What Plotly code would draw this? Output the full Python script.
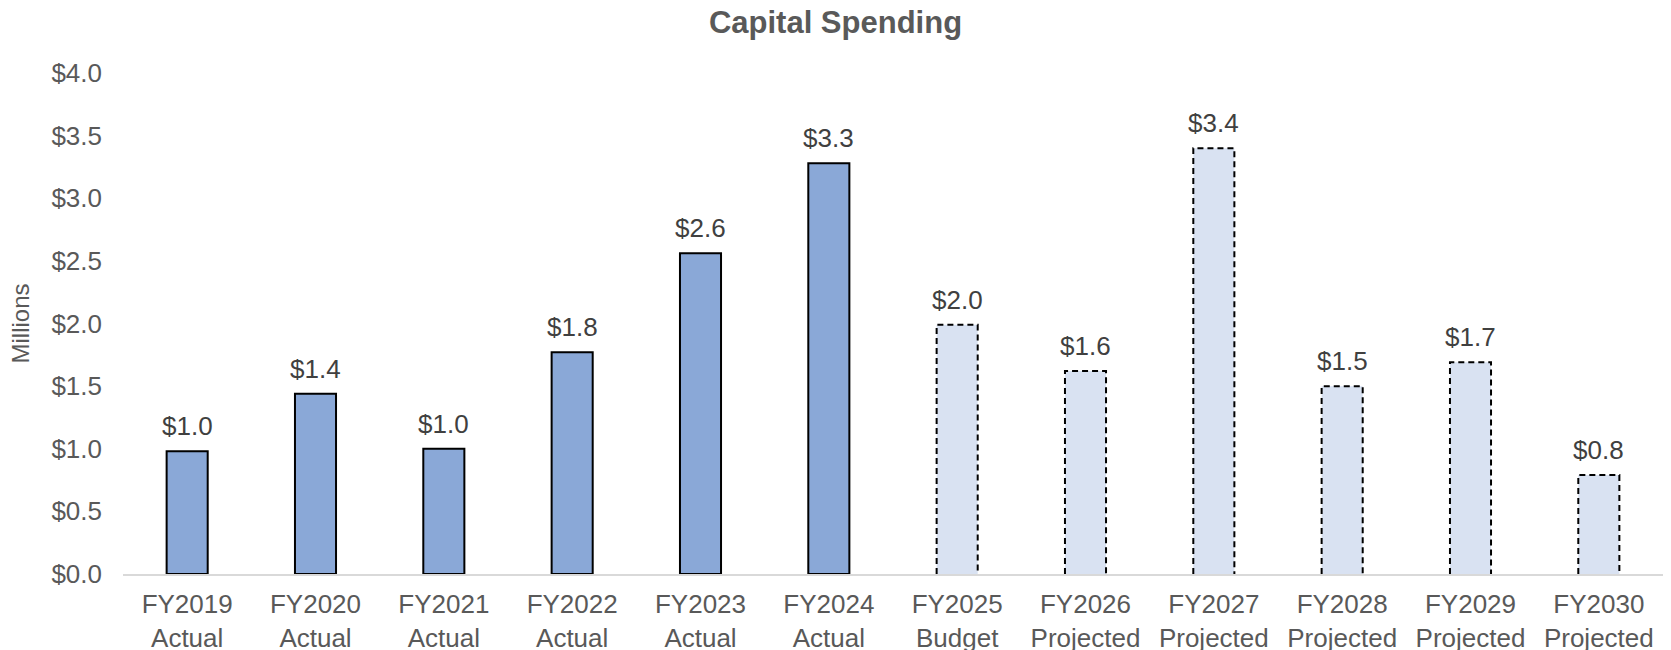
import plotly.graph_objects as go

categories = ["FY2019", "FY2020", "FY2021", "FY2022", "FY2023", "FY2024",
              "FY2025", "FY2026", "FY2027", "FY2028", "FY2029", "FY2030"]
sublabels = ["Actual", "Actual", "Actual", "Actual", "Actual", "Actual",
             "Budget", "Projected", "Projected", "Projected", "Projected", "Projected"]
values = [0.98, 1.44, 1.0, 1.77, 2.56, 3.28, 1.99, 1.62, 3.40, 1.50, 1.69, 0.79]
is_actual = [True] * 6 + [False] * 6

ytick_vals = [0, 0.5, 1.0, 1.5, 2.0, 2.5, 3.0, 3.5, 4.0]
ytick_text = ["$0.0", "$0.5", "$1.0", "$1.5", "$2.0", "$2.5", "$3.0", "$3.5", "$4.0"]

FONT = "Liberation Sans, Arial, sans-serif"
BAR_W = 0.32
ACTUAL_FILL = "#8AA8D7"
PROJ_FILL = "#D9E2F2"

idx = list(range(len(categories)))
act_x = [i for i in idx if is_actual[i]]
proj_x = [i for i in idx if not is_actual[i]]

fig = go.Figure()
fig.add_trace(go.Bar(
    x=act_x, y=[values[i] for i in act_x], width=BAR_W,
    marker=dict(color=ACTUAL_FILL, line=dict(color="#000000", width=2)),
    hoverinfo="skip", showlegend=False,
))
fig.add_trace(go.Bar(
    x=proj_x, y=[values[i] for i in proj_x], width=BAR_W,
    marker=dict(color=PROJ_FILL, line=dict(width=0)),
    hoverinfo="skip", showlegend=False,
))

# dashed outlines for projected bars (left, top, right sides)
ox, oy = [], []
for i in proj_x:
    l, r = i - BAR_W / 2, i + BAR_W / 2
    ox += [l, l, r, r, None]
    oy += [0, values[i], values[i], 0, None]
fig.add_trace(go.Scatter(
    x=ox, y=oy, mode="lines",
    line=dict(color="#000000", width=2, dash="6px,4px"),
    hoverinfo="skip", showlegend=False,
))

for i in idx:
    fig.add_annotation(
        x=i, y=values[i], xref="x", yref="y",
        text=f"${values[i]:.1f}", showarrow=False,
        yanchor="bottom", yshift=8,
        font=dict(family=FONT, size=26, color="#404040"),
    )

fig.update_layout(
    width=1671, height=650,
    margin=dict(l=123, r=8, t=73, b=76),
    paper_bgcolor="white", plot_bgcolor="white",
    title=dict(text="<b>Capital Spending</b>", x=0.5, xanchor="center",
               y=1 - 22 / 650, yanchor="middle", yref="container",
               font=dict(family=FONT, size=31, color="#595959")),
    font=dict(family=FONT, size=26, color="#595959"),
    bargap=0.68,
)
fig.update_xaxes(
    range=[-0.5, len(categories) - 0.5],
    tickmode="array", tickvals=idx,
    ticktext=[f"{c}<br>{s}" for c, s in zip(categories, sublabels)],
    showgrid=False, zeroline=False, automargin=False,
    showline=True, linecolor="#D9D9D9", linewidth=2,
    ticks="", tickfont=dict(family=FONT, size=26, color="#595959"),
    ticklabelstandoff=6,
)
fig.update_yaxes(
    range=[0, 4], tickmode="array", tickvals=ytick_vals, ticktext=ytick_text,
    showgrid=False, zeroline=False, showline=False, ticks="", automargin=False,
    tickfont=dict(family=FONT, size=26, color="#595959"),
    ticklabelstandoff=20,
    title=dict(text="Millions", standoff=14,
               font=dict(family=FONT, size=24, color="#595959")),
)

fig.write_html("out.html")
